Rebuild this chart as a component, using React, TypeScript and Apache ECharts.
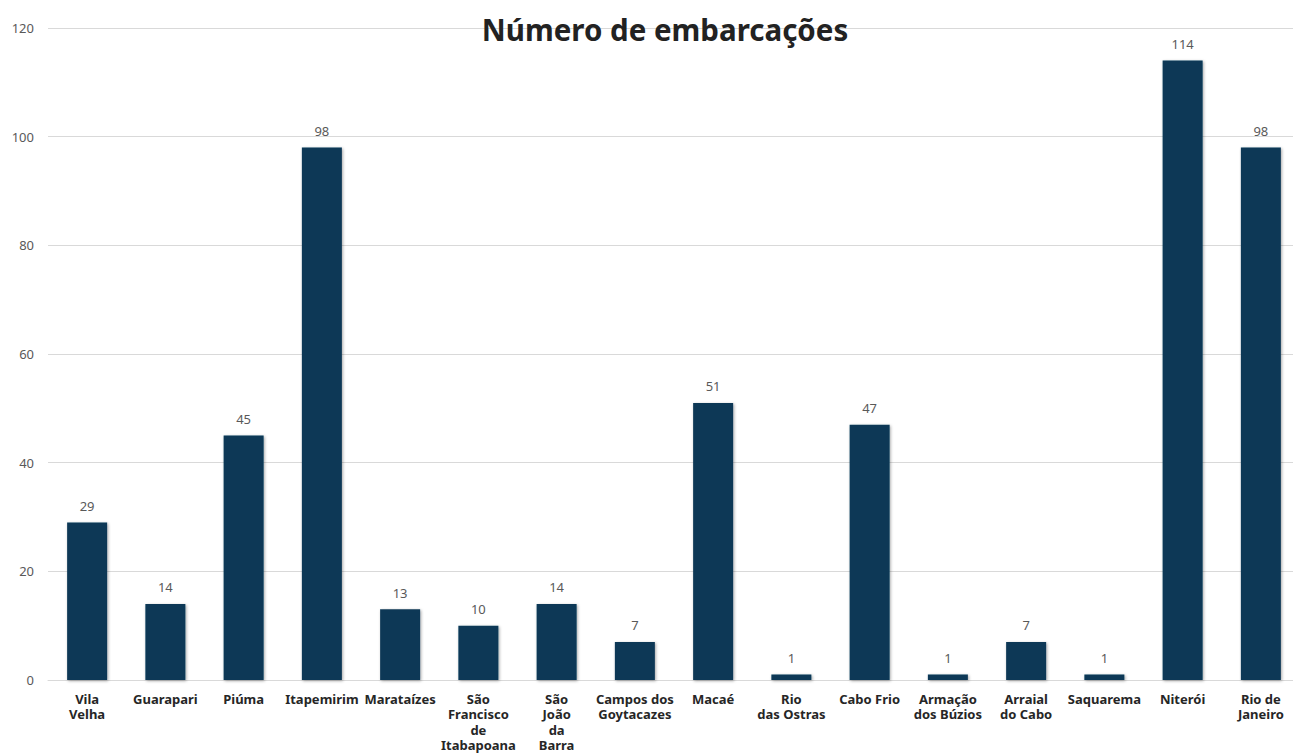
import React, { useEffect, useRef } from "react";
import * as echarts from "echarts";

const categories = [
  "Vila\nVelha",
  "Guarapari",
  "Piúma",
  "Itapemirim",
  "Marataízes",
  "São\nFrancisco\nde\nItabapoana",
  "São\nJoão\nda\nBarra",
  "Campos dos\nGoytacazes",
  "Macaé",
  "Rio\ndas Ostras",
  "Cabo Frio",
  "Armação\ndos Búzios",
  "Arraial\ndo Cabo",
  "Saquarema",
  "Niterói",
  "Rio de\nJaneiro",
];
const values = [29, 14, 45, 98, 13, 10, 14, 7, 51, 1, 47, 1, 7, 1, 114, 98];
const titleText = "Número de embarcações";

export default function App() {
  const ref = useRef<HTMLDivElement>(null);
  useEffect(() => {
    if (!ref.current) return;
    const chart = echarts.init(ref.current, undefined, { renderer: "svg" });
    chart.setOption({
      animation: false,
      backgroundColor: "#ffffff",
      title: {
        text: titleText,
        left: 660,
        textAlign: "center",
        top: 9,
        textStyle: {
          fontFamily: "Noto Sans",
          fontWeight: "bold",
          fontSize: 29.5,
          color: "#222222",
        },
      },
      grid: { left: 48, right: 0, top: 28, bottom: 73 },
      xAxis: {
        type: "category",
        data: categories,
        axisTick: { show: false },
        axisLine: { lineStyle: { color: "#d9d9d9", width: 1 } },
        axisLabel: {
          interval: 0,
          margin: 11,
          fontFamily: "Noto Sans",
          fontWeight: "bold",
          fontSize: 13,
          lineHeight: 15.5,
          color: "#262626",
        },
      },
      yAxis: {
        type: "value",
        min: 0,
        max: 120,
        interval: 20,
        axisLine: { show: false },
        axisTick: { show: false },
        splitLine: { lineStyle: { color: "#d9d9d9", width: 1 } },
        axisLabel: {
          margin: 14,
          fontFamily: "Noto Sans",
          fontSize: 13,
          color: "#595959",
        },
      },
      series: [
        {
          type: "bar",
          data: values,
          barWidth: 40,
          itemStyle: {
            color: "#0a3857",
            shadowBlur: 3,
            shadowColor: "rgba(0,0,0,0.35)",
            shadowOffsetX: 1,
            shadowOffsetY: 1,
          },
          label: {
            show: true,
            position: "top",
            distance: 10,
            fontFamily: "Noto Sans",
            fontSize: 13,
            color: "#595959",
          },
        },
      ],
    });
    return () => chart.dispose();
  }, []);
  return (
    <div
      style={{
        position: "absolute",
        left: 0,
        top: 0,
        width: 1293,
        height: 753,
        overflow: "hidden",
      }}
    >
      <div ref={ref} style={{ width: 1300, height: 753 }} />
    </div>
  );
}
